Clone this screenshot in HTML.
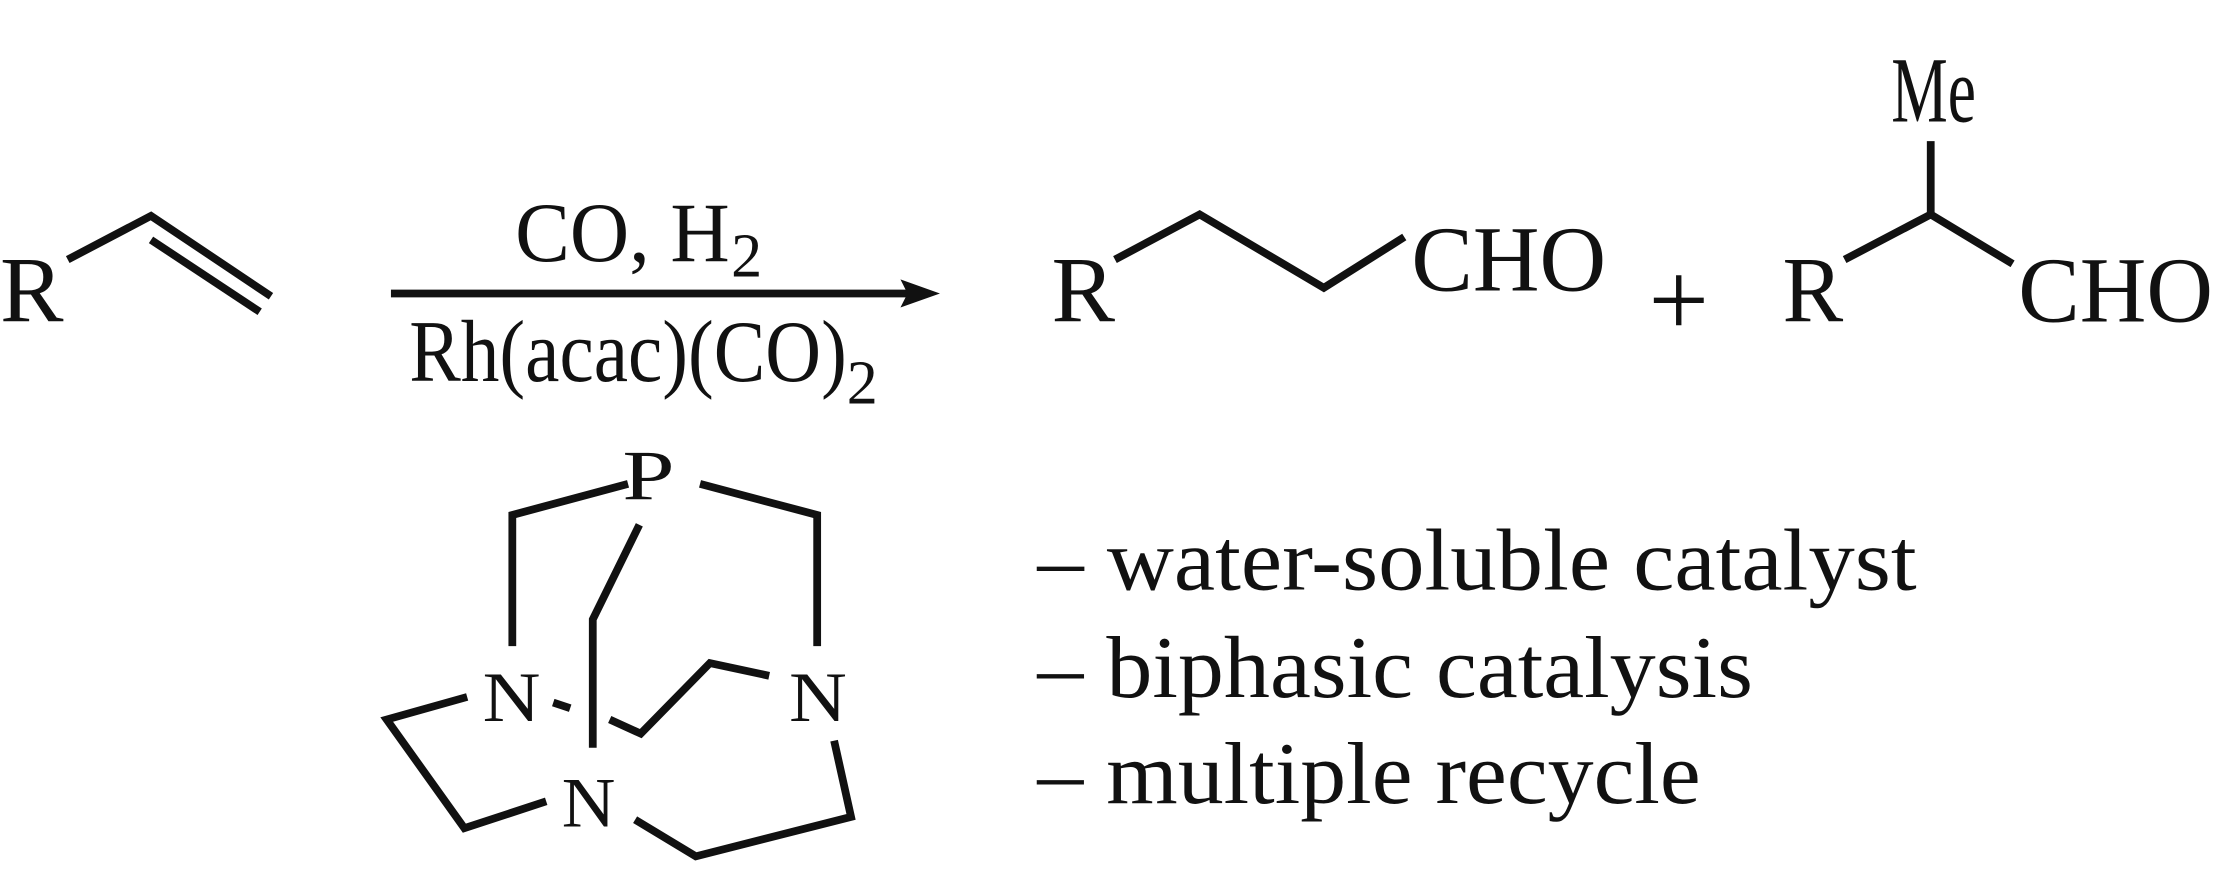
<!DOCTYPE html>
<html><head><meta charset="utf-8"><style>
html,body{margin:0;padding:0;background:#fff;}
svg{display:block;}
text{font-family:"Liberation Serif",serif;fill:#111;}
</style></head><body>
<svg width="2213" height="886" viewBox="0 0 1568 628" preserveAspectRatio="none">
<g stroke="#111" stroke-width="5.5" fill="none" stroke-linejoin="miter" stroke-linecap="butt">
<polyline points="48,184 107,153 192,210"/>
<line x1="107" y1="170" x2="184" y2="221"/>
<line x1="277" y1="208" x2="645" y2="208"/>
<polyline points="790,184 850,152 938,204 995,168"/>
<polyline points="1307,184 1368,152 1426,187"/>
<line x1="1368" y1="152" x2="1368" y2="100"/>
<polyline points="445,343 363,365 363,458"/>
<polyline points="496,343 579,365 579,458"/>
<polyline points="453,372 420,439 420,530"/>
<line x1="392" y1="498" x2="404" y2="502"/>
<polyline points="331,494 274,510 329,587 387,568"/>
<polyline points="432,510 454,520 503,470 545,479"/>
<polyline points="591,525 603,579 493,607 450,581"/>
</g>
<polygon points="638,198 666,208 638,218 643,208" fill="#111"/>
<text x="0" y="228" font-size="66" textLength="45" lengthAdjust="spacingAndGlyphs">R</text>
<text x="365" y="185" font-size="60" textLength="152" lengthAdjust="spacingAndGlyphs">CO, H</text>
<text x="518" y="196" font-size="44">2</text>
<text x="290" y="270" font-size="62" textLength="310" lengthAdjust="spacingAndGlyphs">Rh(acac)(CO)</text>
<text x="600" y="286" font-size="44">2</text>
<text x="745" y="228" font-size="66" textLength="45" lengthAdjust="spacingAndGlyphs">R</text>
<text x="1000" y="206" font-size="66" textLength="138" lengthAdjust="spacingAndGlyphs">CHO</text>
<text x="1168" y="238" font-size="76">+</text>
<text x="1263" y="228" font-size="66" textLength="43" lengthAdjust="spacingAndGlyphs">R</text>
<text x="1340" y="86" font-size="66" textLength="60" lengthAdjust="spacingAndGlyphs">Me</text>
<text x="1430" y="228" font-size="66" textLength="138" lengthAdjust="spacingAndGlyphs">CHO</text>
<text x="441" y="354" font-size="50" textLength="37" lengthAdjust="spacingAndGlyphs">P</text>
<text x="342" y="511" font-size="50" textLength="41" lengthAdjust="spacingAndGlyphs">N</text>
<text x="559" y="511" font-size="50" textLength="41" lengthAdjust="spacingAndGlyphs">N</text>
<text x="398" y="586" font-size="50" textLength="38" lengthAdjust="spacingAndGlyphs">N</text>
<text x="735" y="418" font-size="62" textLength="623" lengthAdjust="spacingAndGlyphs">– water-soluble catalyst</text>
<text x="735" y="494" font-size="62" textLength="507" lengthAdjust="spacingAndGlyphs">– biphasic catalysis</text>
<text x="735" y="569" font-size="62" textLength="470" lengthAdjust="spacingAndGlyphs">– multiple recycle</text>
</svg>
</body></html>
